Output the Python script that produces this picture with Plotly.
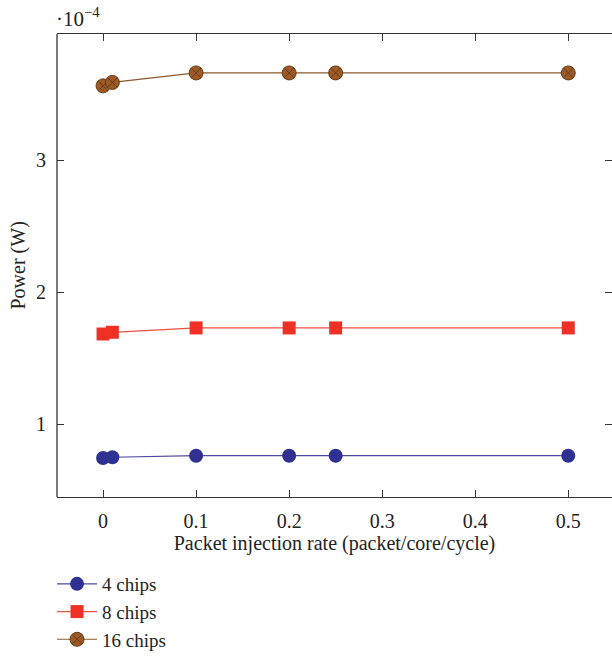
import plotly.graph_objects as go

rates = [0, 0.01, 0.1, 0.2, 0.25, 0.5]
power_4 = [0.743, 0.748, 0.760, 0.760, 0.760, 0.760]      # x 1e-4 W
power_8 = [1.682, 1.695, 1.728, 1.728, 1.728, 1.728]
power_16 = [3.562, 3.588, 3.660, 3.660, 3.660, 3.660]
series_names = ["4 chips", "8 chips", "16 chips"]
x_ticks = [0, 0.1, 0.2, 0.3, 0.4, 0.5]
y_ticks = [1, 2, 3]

FONT = "Liberation Serif"

fig = go.Figure()
fig.add_trace(go.Scatter(
    x=rates, y=power_4, name=series_names[0], mode="lines+markers",
    line=dict(color="#4a4aa0", width=1.2),
    marker=dict(symbol="circle", size=14, color="#2e3192", line=dict(width=0))))
fig.add_trace(go.Scatter(
    x=rates, y=power_8, name=series_names[1], mode="lines+markers",
    line=dict(color="#f05040", width=1.2),
    marker=dict(symbol="square", size=13, color="#ee3124", line=dict(width=0))))
fig.add_trace(go.Scatter(
    x=rates, y=power_16, name=series_names[2], mode="lines+markers",
    line=dict(color="#8b5a2b", width=1.2),
    marker=dict(symbol="circle-x", size=14, color="#9b5a28",
                line=dict(width=1, color="#6b3a14"))))

axis_common = dict(
    ticks="inside", ticklen=7, tickwidth=1, tickcolor="#333",
    showgrid=False, zeroline=False, automargin=False,
    tickfont=dict(family=FONT, size=20, color="#222"),
    title_font=dict(family=FONT, size=20, color="#222"),
)

fig.update_xaxes(
    range=[-0.0495, 0.547], tickvals=x_ticks, ticktext=[str(v) for v in x_ticks],
    showline=True, linecolor="#333", linewidth=1.3, mirror="ticks",
    ticklabelstandoff=6,
    title_text="Packet injection rate (packet/core/cycle)", title_standoff=3,
    **axis_common)
fig.update_yaxes(
    range=[0.447, 3.955], tickvals=y_ticks, ticktext=[str(v) for v in y_ticks],
    showline=False, mirror="ticks",
    ticklabelstandoff=10,
    **axis_common)

fig.add_shape(type="line", xref="paper", yref="paper", x0=0, x1=0, y0=0, y1=1,
              line=dict(color="#333", width=1.3))

fig.add_annotation(xref="paper", yref="paper", x=0, y=1, xanchor="left", yanchor="bottom",
                   yshift=1, xshift=-3, showarrow=False,
                   text="·10<sup>−4</sup>", font=dict(family=FONT, size=21, color="#222"))

# y-axis title
fig.add_annotation(xref="paper", yref="paper", x=0, y=0.5, xanchor="center", yanchor="middle",
                   xshift=-39, showarrow=False, textangle=-90,
                   text="Power (W)", font=dict(family=FONT, size=20, color="#222"))

fig.update_layout(
    width=612, height=657,
    margin=dict(l=57, r=0, t=34, b=160, autoexpand=False),
    paper_bgcolor="white", plot_bgcolor="white",
    showlegend=True,
    legend=dict(xref="container", yref="container", x=0.085, y=0.14,
                xanchor="left", yanchor="top",
                font=dict(family=FONT, size=19, color="#222"),
                tracegroupgap=0, itemwidth=40, bgcolor="rgba(0,0,0,0)"),
)

fig.write_html("out.html")
